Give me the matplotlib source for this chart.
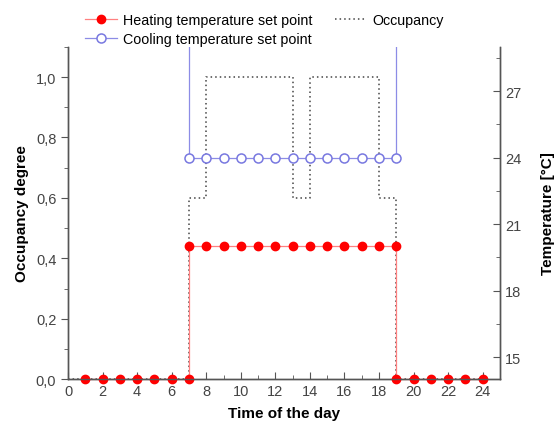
import numpy as np
import matplotlib
matplotlib.use("Agg")
import matplotlib.pyplot as plt
from matplotlib.ticker import MultipleLocator, FuncFormatter

plt.rcParams['font.family'] = ['Liberation Sans', 'DejaVu Sans']

# hours of the day
heat_hours = [1, 2, 3, 4, 5, 6, 7, 7, 8, 9, 10, 11, 12, 13, 14, 15, 16, 17, 18, 19, 19, 20, 21, 22, 23, 24]
heat_temp = [14, 14, 14, 14, 14, 14, 14, 20, 20, 20, 20, 20, 20, 20, 20, 20, 20, 20, 20, 20, 14, 14, 14, 14, 14, 14]

cool_hours = [1, 2, 3, 4, 5, 6, 7, 7, 8, 9, 10, 11, 12, 13, 14, 15, 16, 17, 18, 19, 19, 20, 21, 22, 23, 24]
cool_temp = [99, 99, 99, 99, 99, 99, 99, 24, 24, 24, 24, 24, 24, 24, 24, 24, 24, 24, 24, 24, 99, 99, 99, 99, 99, 99]

occ_hours = [0, 7, 7, 8, 8, 13, 13, 14, 14, 18, 18, 19, 19, 24]
occ_value = [0, 0, 0.6, 0.6, 1.0, 1.0, 0.6, 0.6, 1.0, 1.0, 0.6, 0.6, 0, 0]

fig = plt.figure(figsize=(5.58, 4.35), dpi=100)
ax = fig.add_axes([0.122, 0.126, 0.774, 0.764])
ax2 = ax.twinx()

spine_c = "#555555"
tick_c = "#444444"

occ_line, = ax.plot(occ_hours, occ_value, color="#444444", linestyle=(0, (1, 2)),
                    linewidth=1.1, label="Occupancy")

heat_line, = ax2.plot(heat_hours, heat_temp, color="#ff8080", linewidth=0.9,
                      marker="o", markersize=6, markerfacecolor="#ff0000",
                      markeredgecolor="#ff0000", label="Heating temperature set point",
                      clip_on=False)
cool_line, = ax2.plot(cool_hours, cool_temp, color="#8c8ce6", linewidth=0.9,
                      marker="o", markersize=6.5, markerfacecolor="white",
                      markeredgecolor="#7878e0", markeredgewidth=1.1,
                      label="Cooling temperature set point")

ax.set_xlim(0, 25)
ax.set_ylim(0, 1.1)
ax2.set_ylim(14, 29)

ax.xaxis.set_major_locator(MultipleLocator(2))
ax.xaxis.set_minor_locator(MultipleLocator(1))
ax.yaxis.set_major_locator(MultipleLocator(0.2))
ax.yaxis.set_minor_locator(MultipleLocator(0.1))
ax.yaxis.set_major_formatter(FuncFormatter(lambda v, p: f"{v:.1f}".replace(".", ",")))
ax2.yaxis.set_major_locator(MultipleLocator(3))
ax2.yaxis.set_minor_locator(MultipleLocator(1.5))

ax.tick_params(axis="x", which="both", direction="in", colors=spine_c, labelcolor=tick_c, labelsize=10.5)
ax.tick_params(axis="x", which="major", length=5)
ax.tick_params(axis="x", which="minor", length=3)
ax.tick_params(axis="y", which="both", direction="out", colors=spine_c, labelcolor=tick_c, labelsize=10.5)
ax.tick_params(axis="y", which="major", length=5)
ax.tick_params(axis="y", which="minor", length=3)
ax2.tick_params(axis="y", which="both", direction="in", colors=spine_c, labelcolor=tick_c, labelsize=10.5)
ax2.tick_params(axis="y", which="major", length=5)
ax2.tick_params(axis="y", which="minor", length=3)

for a in (ax, ax2):
    a.spines["top"].set_visible(False)
    for s in ("left", "right", "bottom"):
        a.spines[s].set_color(spine_c)
        a.spines[s].set_linewidth(1.0)

ax.set_xlabel("Time of the day", fontsize=11, fontweight="bold", labelpad=6)
ax.set_ylabel("Occupancy degree", fontsize=11, fontweight="bold", labelpad=5)
ax2.set_ylabel("Temperature [°C]", fontsize=11, fontweight="bold", labelpad=14)

fig.legend(handles=[heat_line, cool_line, occ_line], ncol=2, frameon=False,
           loc="upper left", bbox_to_anchor=(0.13, 0.997), fontsize=10.3,
           handlelength=2.2, handletextpad=0.4, columnspacing=1.6, labelspacing=0.35)

fig.savefig("out.png", dpi=100)
